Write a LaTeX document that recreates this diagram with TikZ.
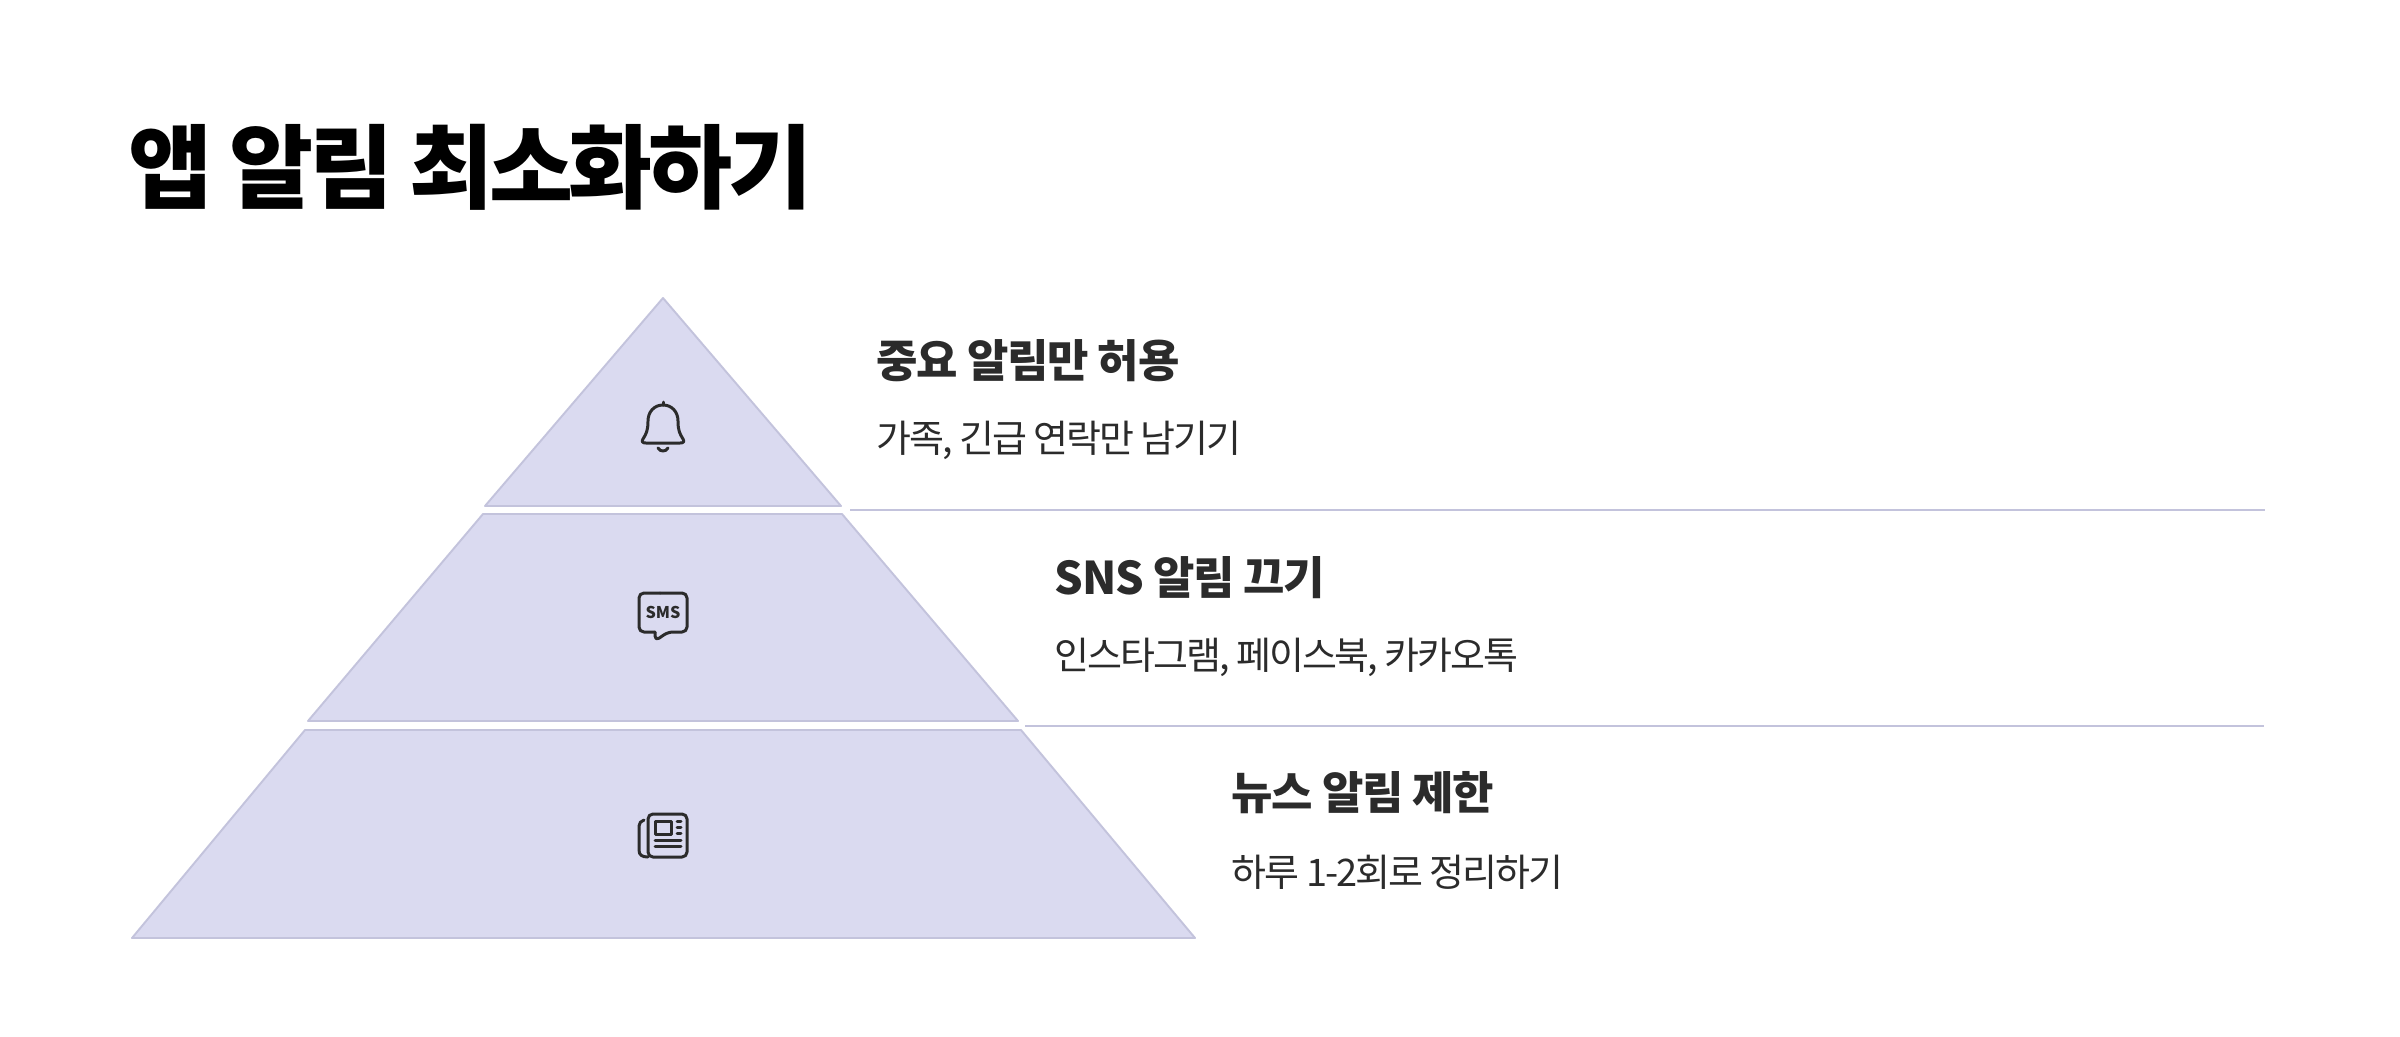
\documentclass[tikz,border=0pt]{standalone}
\usepackage{fontspec}
\setmainfont{Noto Sans CJK KR}
\newfontfamily\titlefont[LetterSpace=-4.9]{Noto Sans CJK KR}
\newfontfamily\headfont[LetterSpace=-2.9]{Noto Sans CJK KR}
\newfontfamily\subfont[LetterSpace=-5.4]{Noto Sans CJK KR}
\usetikzlibrary{positioning}
\definecolor{tierfill}{HTML}{DADAF0}
\definecolor{tierline}{HTML}{C3C3DC}
\definecolor{inkdark}{HTML}{2B2B2B}

\begin{document}
\begin{tikzpicture}[x=0.01cm,y=-0.01cm,
 every node/.style={inner sep=0pt,anchor=west,text=inkdark},
 tier/.style={draw=tierline,fill=tierfill,line width=.55pt,line join=round},
 sep/.style={draw=tierline,line width=.55pt},
 icon/.style={draw=inkdark,line width=.85pt,line cap=round,line join=round},
 titletext/.style={font=\titlefont\fontsize{26}{30}\selectfont\bfseries,text=black},
 headtext/.style={font=\headfont\fontsize{12.8}{15}\selectfont\bfseries},
 subtext/.style={font=\subfont\fontsize{10.8}{14}\selectfont}]
\useasboundingbox (0,0) rectangle (2400,1036);
\node[titletext] (title) at (128,167) {앱 알림 최소화하기};
% pyramid
\draw[tier] (663,298)--(841,506)--(485,506)--cycle;
\draw[tier] (483,514)--(842,514)--(1018,721)--(308,721)--cycle;
\draw[tier] (305,730)--(1021,730)--(1195,938)--(132,938)--cycle;
% separators
\coordinate (s1a) at (850,510);\coordinate (s1b) at (2265,510);
\coordinate (s2a) at (1025,726);\coordinate (s2b) at (2264,726);
\draw[sep] (s1a)--(s1b);\draw[sep] (s2a)--(s2b);
% labels
\node[headtext] (h1) at (876,361) {중요 알림만 허용};
\node[subtext,below=.79cm of h1.west,anchor=west] (d1) {가족, 긴급 연락만 남기기};
\node[headtext] (h2) at (1054,578) {SNS 알림 끄기};
\node[subtext,below=.79cm of h2.west,anchor=west] (d2) {인스타그램, 페이스북, 카카오톡};
\node[headtext] (h3) at (1231,793) {뉴스 알림 제한};
\node[subtext,below=.79cm of h3.west,anchor=west] (d3) {하루 1-2회로 정리하기};
% bell
\draw[icon] (663,405) .. controls (654,405) and (648,412) .. (648,421) .. controls (648,431) and (646,434) .. (643,439) .. controls (641,442) and (643,443) .. (646,443)
 -- (680,443) .. controls (683,443) and (685,442) .. (683,439) .. controls (680,434) and (678,431) .. (678,421) .. controls (678,412) and (672,405) .. (663,405);
\draw[icon] (663,405)--(663,402);
\draw[icon] (658,448) .. controls (660,452) and (666,452) .. (668,448);
% sms
\draw[icon,rounded corners=1.4pt] (660,593)--(687,593)--(687,632)--(668,632)--(655,641)--(655,632);
\draw[icon,rounded corners=1.4pt] (655,632)--(639,632)--(639,593)--(660,593);
\node[anchor=center,font=\fontsize{4.6}{5}\selectfont\bfseries] (sms) at (663,612) {SMS};
% newspaper
\draw[icon,rounded corners=1.4pt] (665,814)--(687,814)--(687,857)--(648,857)--(648,814)--cycle;
\draw[icon] (644,820) .. controls (641,821) and (639,823) .. (639,826) -- (639,850) .. controls (639,855) and (642,857) .. (648,857);
\draw[icon] (655,821) rectangle (671,834);
\draw[icon] (677,821)--(681,821);\draw[icon] (677,827.5)--(681,827.5);\draw[icon] (677,833)--(681,833);
\draw[icon] (655,840)--(681,840);\draw[icon] (655,846)--(681,846);
\end{tikzpicture}
\end{document}
